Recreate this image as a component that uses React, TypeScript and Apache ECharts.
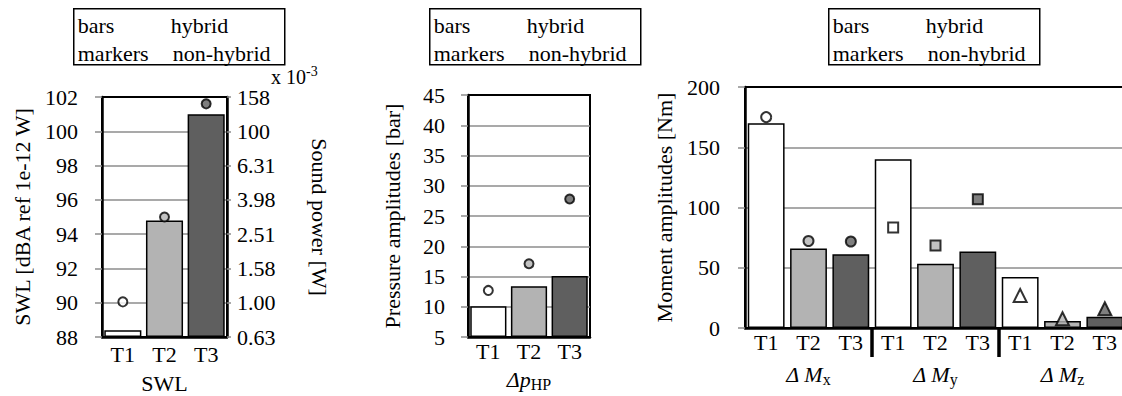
import React, { useEffect, useRef } from 'react';
import * as echarts from 'echarts';

// ---- data ----
const trials = ['T1', 'T2', 'T3'];
const fills = ['#ffffff', '#b3b3b3', '#5f5f5f'];

// Sound power level panel (dBA ref 1e-12 W)
const swlHybrid = [88.4, 94.8, 101.0];
const swlNonHybrid = [90.05, 95.0, 101.6];
const soundPowerLabels = ['0.63', '1.00', '1.58', '2.51', '3.98', '6.31', '100', '158'];

// Pressure amplitude panel (bar)
const dpHybrid = [10.1, 13.4, 15.1];
const dpNonHybrid = [12.7, 17.1, 27.8];

// Moment amplitude panel (Nm)
const momentGroups = ['x', 'y', 'z'];
const mxHybrid = [170, 66, 61.2];
const myHybrid = [140, 53.3, 63.4];
const mzHybrid = [42.4, 5.8, 9.3];
const mxNonHybrid = [175, 72.2, 71.8];
const myNonHybrid = [83.3, 68.4, 106.8];
const mzNonHybrid = [27, 7.7, 16];
const momentSymbols = ['circle', 'rect', 'triangle'];

const legendRows = [
  ['bars', 'hybrid'],
  ['markers', 'non-hybrid'],
];

// ---- styles ----
const FONT = 'Liberation Serif';
const FS = 22;
const GRID_GRAY = '#8c8c8c';

const momentHybrid = [mxHybrid, myHybrid, mzHybrid];
const momentNonHybrid = [mxNonHybrid, myNonHybrid, mzNonHybrid];
const momentCats = momentGroups.flatMap((g) => trials.map((t) => `${t}|${g}`));

const textBase = {
  color: '#000',
  fontFamily: FONT,
  fontSize: FS,
  fontStyle: 'normal',
  fontWeight: 'normal',
};

const subRich = {
  it: { fontStyle: 'italic', fontWeight: 'normal', fontFamily: FONT, fontSize: FS, color: '#000' },
  sub: {
    fontStyle: 'normal',
    fontWeight: 'normal',
    fontFamily: FONT,
    fontSize: 16,
    color: '#000',
    padding: [10, 0, 0, 0],
  },
};

function legendText(text: string, x: number, y: number) {
  return {
    type: 'text',
    x,
    y,
    style: {
      text,
      fontFamily: FONT,
      fontSize: FS,
      fontStyle: 'normal',
      fontWeight: 'normal',
      fill: '#000',
      verticalAlign: 'middle',
    },
  };
}

function legendBox(left: number) {
  const children: any[] = [
    {
      type: 'rect',
      shape: { x: 0, y: 0, width: 211, height: 56 },
      style: { fill: '#fff', stroke: '#000', lineWidth: 1.5 },
    },
  ];
  legendRows.forEach((row, r) => {
    children.push(legendText(row[0], 4, 17 + r * 28));
    children.push(legendText(row[1], r === 0 ? 97 : 99, 17 + r * 28));
  });
  return { type: 'group', left, top: 8, children };
}

const valueAxisCommon = {
  type: 'value',
  axisLine: { show: true, lineStyle: { color: '#000', width: 2.5 } },
  axisTick: { show: true, length: 7, lineStyle: { color: GRID_GRAY, width: 1.5 } },
  splitLine: {
    show: true,
    showMinLine: false,
    showMaxLine: false,
    lineStyle: { color: GRID_GRAY, width: 1.5 },
  },
  axisLabel: { ...textBase },
  nameLocation: 'middle',
  nameTextStyle: { ...textBase },
};

const catAxisCommon = {
  type: 'category',
  axisLine: { show: true, lineStyle: { color: '#000', width: 2.5 } },
  axisTick: { show: false },
  axisLabel: { ...textBase, interval: 0 },
};

const gridCommon = {
  show: true,
  borderColor: '#000',
  borderWidth: 2,
  backgroundColor: 'transparent',
  containLabel: false,
  outerBoundsMode: 'none',
};

const barStyle = { borderColor: '#000', borderWidth: 1.5 };
const markerStyle = { borderColor: '#000', borderWidth: 2 };

function buildOption() {
  return {
    animation: false,
    backgroundColor: '#fff',
    grid: [
      { ...gridCommon, left: 102, top: 97, width: 125, height: 240 },
      { ...gridCommon, left: 468, top: 95, width: 122, height: 242 },
      { ...gridCommon, left: 745, top: 87, width: 381, height: 241 },
    ],
    xAxis: [
      {
        ...catAxisCommon,
        gridIndex: 0,
        data: trials,
        axisLabel: { ...catAxisCommon.axisLabel, margin: 6 },
        name: 'SWL',
        nameLocation: 'middle',
        nameGap: 35,
        nameTextStyle: { ...textBase, verticalAlign: 'top' },
      },
      {
        ...catAxisCommon,
        gridIndex: 1,
        data: trials,
        axisLabel: { ...catAxisCommon.axisLabel, margin: 3 },
        name: '{it|Δp}{sub|HP}',
        nameLocation: 'middle',
        nameGap: 29,
        nameTextStyle: { ...textBase, verticalAlign: 'top', rich: subRich },
      },
      {
        ...catAxisCommon,
        gridIndex: 2,
        data: momentCats,
        axisLabel: {
          ...catAxisCommon.axisLabel,
          margin: 3,
          formatter: (v: string) => v.split('|')[0],
        },
      },
      {
        type: 'category',
        gridIndex: 2,
        position: 'bottom',
        data: momentGroups,
        axisLine: { show: false },
        axisTick: { show: false },
        axisLabel: {
          ...textBase,
          interval: 0,
          margin: 33,
          formatter: (g: string) => `{it|Δ M}{sub|${g}}`,
          rich: subRich,
        },
      },
    ],
    yAxis: [
      {
        ...valueAxisCommon,
        gridIndex: 0,
        min: 88,
        max: 102,
        interval: 2,
        startValue: 88,
        axisLabel: { ...textBase, margin: 24 },
        name: 'SWL [dBA ref 1e-12 W]',
        nameGap: 69,
        nameRotate: 90,
      },
      {
        ...valueAxisCommon,
        gridIndex: 0,
        position: 'right',
        min: 88,
        max: 102,
        interval: 2,
        startValue: 88,
        splitLine: { show: false },
        axisTick: { show: true, length: 4, lineStyle: { color: GRID_GRAY, width: 1.5 } },
        axisLabel: {
          ...textBase,
          margin: 10,
          formatter: (v: number) => soundPowerLabels[Math.round((v - 88) / 2)],
        },
        name: 'Sound power [W]',
        nameGap: 81,
        nameRotate: -90,
      },
      {
        ...valueAxisCommon,
        gridIndex: 1,
        min: 5,
        max: 45,
        interval: 5,
        startValue: 5,
        axisLabel: { ...textBase, margin: 23 },
        name: 'Pressure amplitudes [bar]',
        nameGap: 65,
        nameRotate: 90,
      },
      {
        ...valueAxisCommon,
        gridIndex: 2,
        min: 0,
        max: 200,
        interval: 50,
        axisLabel: { ...textBase, margin: 25 },
        name: 'Moment amplitudes [Nm]',
        nameGap: 70,
        nameRotate: 90,
      },
    ],
    graphic: [
      legendBox(73),
      legendBox(429),
      legendBox(828),
      {
        type: 'text',
        left: 271,
        top: 64,
        style: {
          text: '{a|x 10}{b|-3}',
          rich: {
            a: { fontFamily: FONT, fontStyle: 'normal', fontWeight: 'normal', fontSize: 20, fill: '#000' },
            b: {
              fontFamily: FONT,
              fontStyle: 'normal',
              fontWeight: 'normal',
              fontSize: 14,
              fill: '#000',
              padding: [0, 0, 12, 0],
            },
          },
        },
      },
    ],
    series: [
      {
        type: 'bar',
        xAxisIndex: 0,
        yAxisIndex: 0,
        barCategoryGap: '11%',
        data: swlHybrid.map((v, i) => ({ value: v, itemStyle: { color: fills[i] } })),
        itemStyle: barStyle,
      },
      {
        type: 'scatter',
        xAxisIndex: 0,
        yAxisIndex: 0,
        symbol: 'circle',
        symbolSize: 9,
        data: swlNonHybrid.map((v, i) => ({ value: v, itemStyle: { color: fills[i] } })),
        itemStyle: markerStyle,
        z: 5,
      },
      {
        type: 'bar',
        xAxisIndex: 1,
        yAxisIndex: 2,
        barCategoryGap: '11%',
        data: dpHybrid.map((v, i) => ({ value: v, itemStyle: { color: fills[i] } })),
        itemStyle: barStyle,
      },
      {
        type: 'scatter',
        xAxisIndex: 1,
        yAxisIndex: 2,
        symbol: 'circle',
        symbolSize: 9,
        data: dpNonHybrid.map((v, i) => ({ value: v, itemStyle: { color: fills[i] } })),
        itemStyle: markerStyle,
        z: 5,
      },
      {
        type: 'bar',
        xAxisIndex: 2,
        yAxisIndex: 3,
        barCategoryGap: '13%',
        data: momentHybrid.flatMap((vals) =>
          vals.map((v, i) => ({ value: v, itemStyle: { color: fills[i] } }))
        ),
        itemStyle: barStyle,
      },
      ...momentNonHybrid.map((vals, g) => ({
        type: 'scatter',
        xAxisIndex: 2,
        yAxisIndex: 3,
        symbol: momentSymbols[g],
        symbolSize: g === 2 ? 13 : 10,
        data: vals.map((v, i) => ({
          value: [g * trials.length + i, v],
          itemStyle: { color: fills[i] },
        })),
        itemStyle: markerStyle,
        z: 5,
      })),
      {
        // vertical separators between the moment component groups
        type: 'custom',
        xAxisIndex: 2,
        yAxisIndex: 3,
        silent: true,
        clip: false,
        z: 6,
        data: momentGroups.slice(1).map((_, k) => [(k + 1) * trials.length, 0]),
        encode: { x: 0, y: 1 },
        renderItem: (params: any, api: any) => {
          const idx = api.value(0);
          const a = api.coord([idx - 1, 0]);
          const b = api.coord([idx, 0]);
          const x = (a[0] + b[0]) / 2;
          return {
            type: 'line',
            shape: { x1: x, y1: a[1], x2: x, y2: a[1] + 29 },
            style: { stroke: '#000', lineWidth: 3.5 },
          };
        },
      },
    ],
  };
}

export default function App() {
  const ref = useRef<HTMLDivElement>(null);

  useEffect(() => {
    if (!ref.current) return;
    const chart = echarts.init(ref.current, undefined, { renderer: 'svg' });
    chart.setOption(buildOption() as any);
    return () => chart.dispose();
  }, []);

  return (
    <div
      ref={ref}
      style={{ position: 'absolute', left: 0, top: 0, width: 1122, height: 396 }}
    />
  );
}
